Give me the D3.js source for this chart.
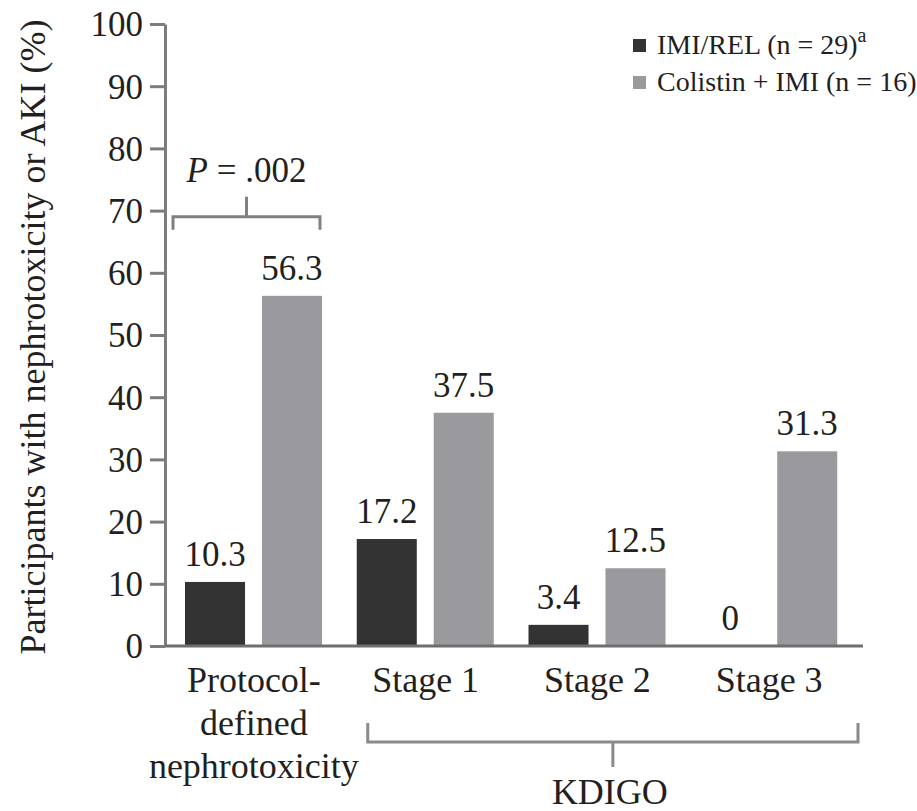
<!DOCTYPE html>
<html><head><meta charset="utf-8">
<script src="https://cdn.jsdelivr.net/npm/d3@7"></script>
<style>body{margin:0;background:#fff}svg{display:block}</style>
</head><body><svg id="c" width="917" height="811"></svg>
<script>
// ---- data ----
const categories = ["Protocol-defined nephrotoxicity", "Stage 1", "Stage 2", "Stage 3"];
const categoryLines = [["Protocol-", "defined", "nephrotoxicity"], ["Stage 1"], ["Stage 2"], ["Stage 3"]];
const seriesKeys = ["imiRel", "colistinImi"];
const seriesNames = ["IMI/REL (n = 29)", "Colistin + IMI (n = 16)"];
const imiRelValues = [10.3, 17.2, 3.4, 0];
const colistinImiValues = [56.3, 37.5, 12.5, 31.3];
const yTicks = [0, 10, 20, 30, 40, 50, 60, 70, 80, 90, 100];
const yLabel = "Participants with nephrotoxicity or AKI (%)";
const pValueText = ".002";
const groupLabel = "KDIGO";

// ---- styles ----
const FONT = '"Liberation Serif"';
const TXT = "#231f20";
const colors = { imiRel: "#333333", colistinImi: "#9a9a9e" };
const AX = "#7c7c7c";

const svg = d3.select("#c");
const x0 = d3.scaleBand().domain(categories).range([168, 855]);
const x1 = d3.scaleBand().domain(seriesKeys).range([17, 154]).paddingInner(0.22);
const y = d3.scaleLinear().domain([0, 100]).range([646, 24]);

const rows = categories.map((c, i) => ({ cat: c, lines: categoryLines[i], imiRel: imiRelValues[i], colistinImi: colistinImiValues[i] }));

function txt(sel, size) {
  return sel.style("font-family", FONT).attr("font-size", size).attr("fill", TXT);
}

// y axis
const yAxis = svg.append("g").attr("transform", "translate(165,0)")
  .call(d3.axisLeft(y).tickValues(yTicks).tickSize(15).tickSizeOuter(0).tickPadding(7));
yAxis.select(".domain").attr("stroke", AX).attr("stroke-width", 3);
yAxis.selectAll(".tick line").attr("stroke", AX).attr("stroke-width", 3);
txt(yAxis.selectAll(".tick text"), 35).attr("dy", "0.34em");
yAxis.attr("font-family", null);

// y label
txt(svg.append("text"), 36)
  .attr("transform", `translate(45,${(y(0) + y(100)) / 2 + 2}) rotate(-90)`)
  .attr("text-anchor", "middle")
  .text(yLabel);

// bars
const g = svg.append("g");
rows.forEach(r => {
  seriesKeys.forEach(k => {
    const xb = x0(r.cat) + x1(k);
    g.append("rect").attr("x", xb).attr("y", y(r[k])).attr("width", x1.bandwidth())
      .attr("height", y(0) - y(r[k])).attr("fill", colors[k]);
    txt(g.append("text"), 35).attr("x", xb + x1.bandwidth() / 2).attr("y", y(r[k]) - 16)
      .attr("text-anchor", "middle")
      .text(d3.format("")(r[k]));
  });
});

// x baseline
svg.append("line").attr("x1", 165).attr("x2", x0.range()[1] + 8).attr("y1", y(0)).attr("y2", y(0))
  .attr("stroke", "#6e6e6e").attr("stroke-width", 3);

// category labels
rows.forEach(r => {
  const t = txt(svg.append("text"), 36).attr("text-anchor", "middle");
  r.lines.forEach((ln, i) => {
    t.append("tspan").attr("x", x0(r.cat) + x0.bandwidth() / 2).attr("y", y(0) + 46 + i * 43).text(ln);
  });
});

// P-value bracket
const c0 = categories[0];
const pb = { x1: x0(c0) + x1("imiRel") - 12, x2: x0(c0) + x1("colistinImi") + x1.bandwidth() - 2, y: y(69) };
const pmid = (pb.x1 + pb.x2) / 2;
svg.append("path")
  .attr("d", `M${pb.x1},${pb.y + 13}V${pb.y}H${pb.x2}V${pb.y + 13}M${pmid},${pb.y}V${pb.y - 20}`)
  .attr("fill", "none").attr("stroke", "#808080").attr("stroke-width", 3);
const pt = txt(svg.append("text"), 35).attr("x", pmid).attr("y", pb.y - 35).attr("text-anchor", "middle");
pt.append("tspan").attr("font-style", "italic").text("P");
pt.append("tspan").text(" = " + pValueText);

// KDIGO bracket
const kb = { x1: x0("Stage 1") + 28, x2: x0.range()[1] + 3, y: y(0) + 96 };
const kmid = (kb.x1 + kb.x2) / 2;
svg.append("path")
  .attr("d", `M${kb.x1},${kb.y - 19}V${kb.y}H${kb.x2}V${kb.y - 19}M${kmid},${kb.y}V${kb.y + 25}`)
  .attr("fill", "none").attr("stroke", "#8a8a8a").attr("stroke-width", 3);
txt(svg.append("text"), 36).attr("x", kmid - 3).attr("y", kb.y + 62).attr("text-anchor", "middle").text(groupLabel);

// legend
const lg = svg.append("g").attr("transform", "translate(633,0)");
seriesKeys.forEach((k, i) => {
  const yy = 54 + i * 37;
  lg.append("rect").attr("x", 0).attr("y", yy - 15).attr("width", 13).attr("height", 13).attr("fill", colors[k]);
  const t = txt(lg.append("text"), 28).attr("x", 24).attr("y", yy);
  t.append("tspan").text(seriesNames[i]);
  if (i === 0) t.append("tspan").attr("font-size", 20).attr("dy", -12).text("a");
});
</script></body></html>
